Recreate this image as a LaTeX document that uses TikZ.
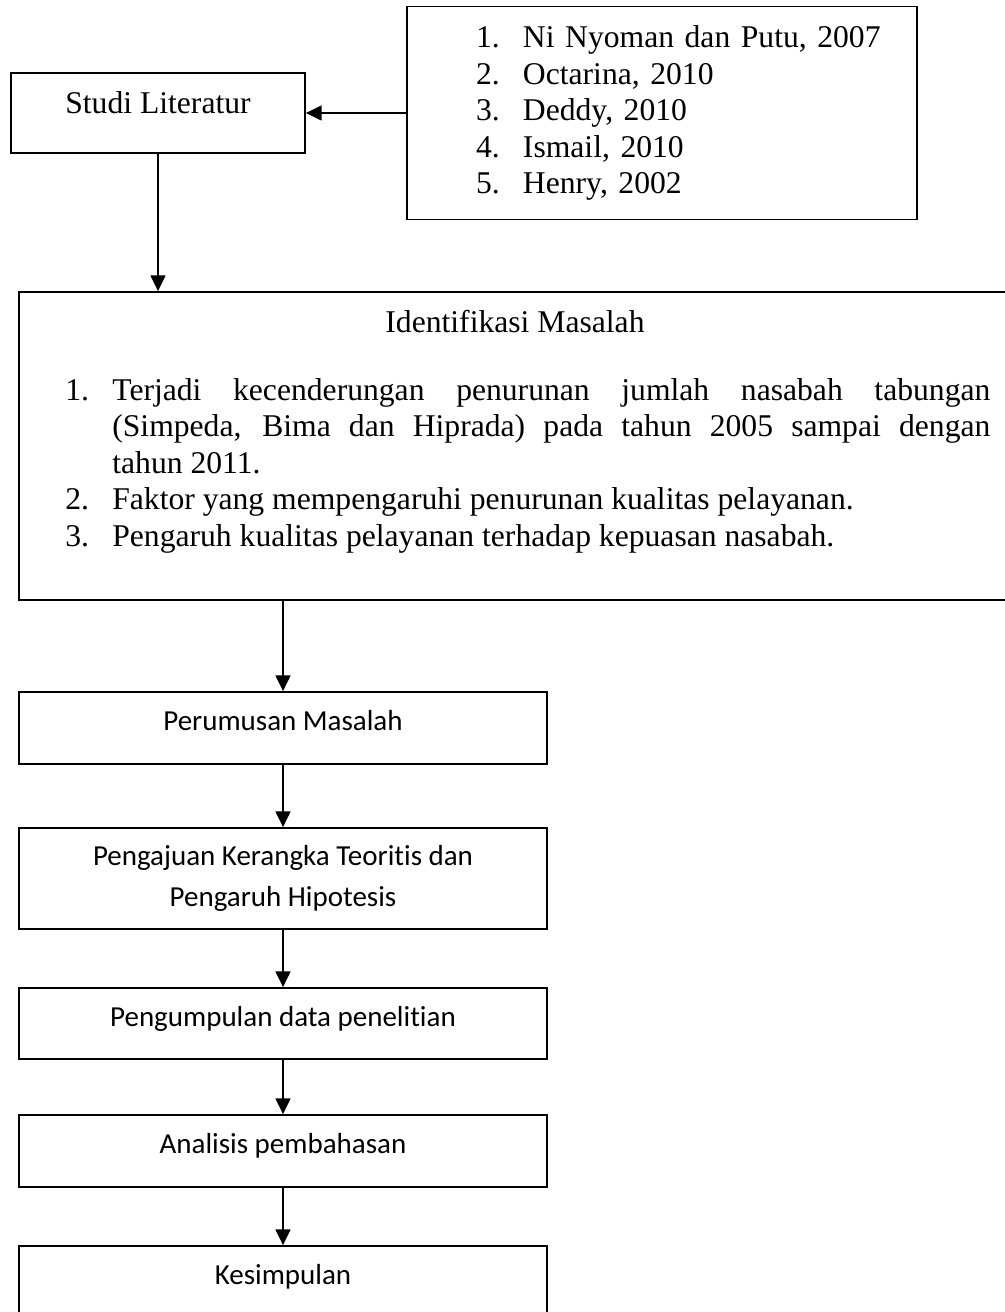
\documentclass[tikz,border=0pt]{standalone}
\usepackage{fontspec}
\setmainfont{Liberation Serif}
\newfontfamily\calibri[Ligatures={NoCommon}]{Carlito}
\usetikzlibrary{arrows.meta}

\tikzset{
  seriftext/.style={font=\fontsize{18pt}{20.8pt}\selectfont},
  serifbox/.style={seriftext, draw=black, line width=1pt},
  flowbox/.style={draw=black, line width=1pt, minimum width=10.56cm, align=center, font=\calibri\fontsize{16.5pt}{23.2pt}\selectfont},
  flowline/.style={flowbox, minimum height=1.44cm, text height=0.42cm, text depth=0.32cm},
  flowarrow/.style={->, line width=1pt},
}

\begin{document}
\begin{tikzpicture}[>={Triangle[length=9pt,width=8.5pt]}]
    \useasboundingbox (0,0) rectangle (20.1,-26.24);

    \node[serifbox, minimum width=5.88cm, minimum height=1.6cm, text height=0.45cm, text depth=0.45cm] (studi_lit) at (3.16, -2.26) {Studi Literatur};
    \node[serifbox, text width=10.2cm, inner xsep=0pt, minimum height=4.26cm, align=left] (ref_list) at (13.24, -2.26) {%
        \hspace*{1.38cm}\makebox[0.94cm][l]{1.}Ni Nyoman dan Putu, 2007\\
        \hspace*{1.38cm}\makebox[0.94cm][l]{2.}Octarina, 2010\\
        \hspace*{1.38cm}\makebox[0.94cm][l]{3.}Deddy, 2010\\
        \hspace*{1.38cm}\makebox[0.94cm][l]{4.}Ismail, 2010\\
        \hspace*{1.38cm}\makebox[0.94cm][l]{5.}Henry, 2002};

    \node[serifbox, minimum width=19.84cm, minimum height=6.16cm] (ident_box) at (10.3, -8.92) {};
    \node[seriftext, anchor=base] (ident_title) at (10.3, -6.64) {Identifikasi Masalah};
    \node[seriftext, anchor=base west, text width=18.5cm, inner sep=0pt, align=justify] (ident_items) at (1.3, -8.0) {%
        \hyphenpenalty=10000 \tolerance=10000
        \hangindent=0.94cm \hangafter=1 \noindent\makebox[0.94cm][l]{1.}Terjadi kecenderungan penurunan jumlah nasabah tabungan\linebreak
        (Simpeda, Bima dan Hiprada) pada tahun 2005 sampai dengan\linebreak
        tahun 2011.\par
        \hangindent=0.94cm \hangafter=1 \noindent\makebox[0.94cm][l]{2.}Faktor yang mempengaruhi penurunan kualitas pelayanan.\par
        \hangindent=0.94cm \hangafter=1 \noindent\makebox[0.94cm][l]{3.}Pengaruh kualitas pelayanan terhadap kepuasan nasabah.\par};

    \node[flowline] (fc_rumus) at (5.66, -14.56) {Perumusan Masalah};
    \node[flowbox, minimum height=2.02cm] (fc_kerangka) at (5.66, -17.57) {Pengajuan Kerangka Teoritis dan\\Pengaruh Hipotesis};
    \node[flowline, minimum height=1.42cm] (fc_data) at (5.66, -20.47) {Pengumpulan data penelitian};
    \node[flowline] (fc_analisis) at (5.66, -23.02) {Analisis pembahasan};
    \node[flowline] (fc_simpul) at (5.66, -25.64) {Kesimpulan};

    \draw[flowarrow] (ref_list.west) -- (studi_lit.east);
    \draw[flowarrow] (studi_lit.south) -- (studi_lit.south |- ident_box.north);

    \draw[flowarrow] (ident_box.south -| fc_rumus.north) -- (fc_rumus.north);
    \draw[flowarrow] (fc_rumus) -- (fc_kerangka);
    \draw[flowarrow] (fc_kerangka) -- (fc_data);
    \draw[flowarrow] (fc_data) -- (fc_analisis);
    \draw[flowarrow] (fc_analisis) -- (fc_simpul);
\end{tikzpicture}
\end{document}
